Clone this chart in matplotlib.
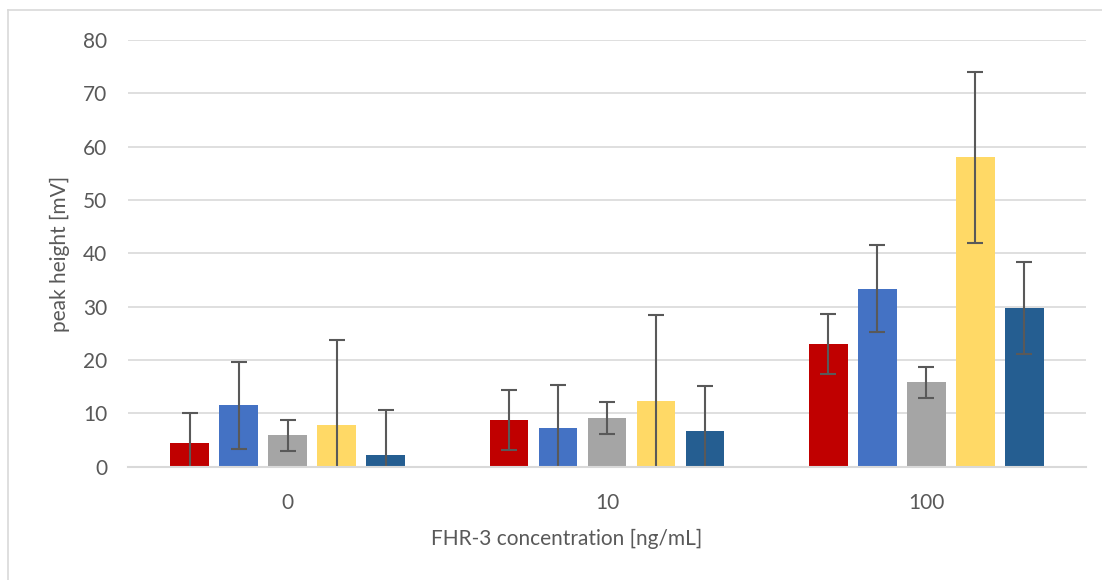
import numpy as np
import matplotlib
matplotlib.use('Agg')
import matplotlib.pyplot as plt
from matplotlib.lines import Line2D

plt.rcParams['font.family'] = ['Lato', 'DejaVu Sans']

# data
categories = ['0', '10', '100']
red_vals = [4.4, 8.7, 23.0]
red_err = [5.7, 5.6, 5.6]
blue_vals = [11.5, 7.3, 33.4]
blue_err = [8.1, 8.1, 8.15]
gray_vals = [5.85, 9.1, 15.8]
gray_err = [2.95, 2.95, 2.97]
yellow_vals = [7.8, 12.3, 58.0]
yellow_err = [16.0, 16.1, 16.05]
dblue_vals = [2.1, 6.6, 29.8]
dblue_err = [8.6, 8.6, 8.6]

series = [
    (red_vals, red_err, '#C00000'),
    (blue_vals, blue_err, '#4472C4'),
    (gray_vals, gray_err, '#A5A5A5'),
    (yellow_vals, yellow_err, '#FFD966'),
    (dblue_vals, dblue_err, '#255E91'),
]

W, H = 1102, 580
fig = plt.figure(figsize=(W / 100, H / 100), dpi=100)
ax = fig.add_axes([128 / W, 1 - 466.7 / H, 958 / W, 426.7 / H])

x = np.arange(len(categories))
pitch = 0.1536
width = 0.121
for i, (vals, errs, col) in enumerate(series):
    pos = x + (i - 2) * pitch
    ax.bar(pos, vals, width, color=col, zorder=3)
    ax.errorbar(pos, vals, yerr=errs, fmt='none', ecolor='#595959',
                elinewidth=1.5, capsize=6, capthick=1.5, zorder=4)

ax.set_xlim(-0.5, 2.5)
ax.set_ylim(0, 80)
ax.set_yticks(range(0, 81, 10))
ax.set_xticks(x)
ax.set_xticklabels(categories)
ax.yaxis.grid(True, color='#D9D9D9', linewidth=1.2, zorder=0)
for s in ['top', 'right', 'left']:
    ax.spines[s].set_visible(False)
ax.spines['bottom'].set_color('#D9D9D9')
ax.spines['bottom'].set_linewidth(1.5)
ax.spines['bottom'].set_zorder(5)
ax.tick_params(axis='both', length=0, labelsize=15, colors='#595959')
ax.tick_params(axis='y', pad=15)
ax.tick_params(axis='x', pad=19)

# axis titles placed like the reference (x title sits left of the plot centre)
fig.text(567 / W, 1 - 539 / H, 'FHR-3 concentration [ng/mL]', fontsize=15,
         color='#595959', ha='center', va='center')
fig.text(60 / W, 1 - 254 / H, 'peak height [mV]', fontsize=15, color='#595959',
         ha='center', va='center', rotation=90)

# chart border (only left/top visible in the reference)
fig.add_artist(Line2D([8 / W, 8 / W], [0, 1 - 10 / H], transform=fig.transFigure,
                      color='#D9D9D9', linewidth=1.2))
fig.add_artist(Line2D([8 / W, 1], [1 - 10 / H, 1 - 10 / H], transform=fig.transFigure,
                      color='#D9D9D9', linewidth=1.2))

fig.savefig('out.png', dpi=100)
